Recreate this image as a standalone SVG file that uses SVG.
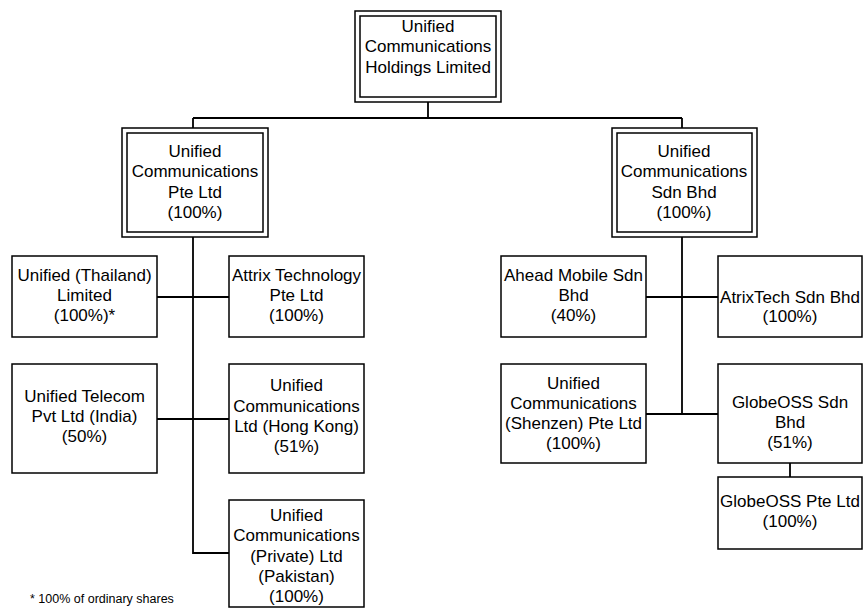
<svg xmlns="http://www.w3.org/2000/svg" width="863" height="608" viewBox="0 0 863 608">
<style>
.b{fill:#fff;stroke:#000;stroke-width:1.5}
.d{fill:none;stroke:#000;stroke-width:1.5}
.c{fill:none;stroke:#000;stroke-width:1.8}
text{font-family:"Liberation Sans",Arial,sans-serif;font-size:17px;fill:#000;text-anchor:middle}
.fn{font-size:12.5px;text-anchor:start}
</style>
<rect width="863" height="608" fill="#fff"/>
<g id="connectors">
<path class="c" d="M428 102V118M193 118H682M193 118V128M682 118V128"/>
<path class="c" d="M193 237V553H229M157 297H229M157 419H229"/>
<path class="c" d="M682 237V414M646 297H718M646 414H718M790 463V477"/>
</g>
<g id="n_holdings">
<rect class="b" x="355" y="11" width="146" height="91"/>
<rect class="d" x="360" y="16" width="136" height="81"/>
<text x="428" y="32">Unified</text>
<text x="428" y="52">Communications</text>
<text x="428" y="73">Holdings Limited</text>
</g>
<g id="n_pte">
<rect class="b" x="122" y="128" width="146" height="109"/>
<rect class="d" x="127" y="133" width="136" height="99"/>
<text x="195" y="157">Unified</text>
<text x="195" y="177">Communications</text>
<text x="195" y="198">Pte Ltd</text>
<text x="195" y="218">(100%)</text>
</g>
<g id="n_sdn">
<rect class="b" x="612" y="128" width="145" height="109"/>
<rect class="d" x="617" y="133" width="135" height="99"/>
<text x="684" y="157">Unified</text>
<text x="684" y="177">Communications</text>
<text x="684" y="198">Sdn Bhd</text>
<text x="684" y="218">(100%)</text>
</g>
<g id="n_thailand">
<rect class="b" x="12" y="256" width="145" height="81"/>
<text x="84.5" y="281">Unified (Thailand)</text>
<text x="84.5" y="301">Limited</text>
<text x="84.5" y="321">(100%)*</text>
</g>
<g id="n_attrix">
<rect class="b" x="229" y="256" width="135" height="81"/>
<text x="296.5" y="281">Attrix Technology</text>
<text x="296.5" y="301">Pte Ltd</text>
<text x="296.5" y="321">(100%)</text>
</g>
<g id="n_india">
<rect class="b" x="12" y="364" width="145" height="109"/>
<text x="84.5" y="402">Unified Telecom</text>
<text x="84.5" y="422">Pvt Ltd (India)</text>
<text x="84.5" y="442">(50%)</text>
</g>
<g id="n_hongkong">
<rect class="b" x="229" y="364" width="135" height="109"/>
<text x="296.5" y="391">Unified</text>
<text x="296.5" y="412">Communications</text>
<text x="296.5" y="432">Ltd (Hong Kong)</text>
<text x="296.5" y="452">(51%)</text>
</g>
<g id="n_pakistan">
<rect class="b" x="229" y="500" width="135" height="107"/>
<text x="296.5" y="521">Unified</text>
<text x="296.5" y="541">Communications</text>
<text x="296.5" y="562">(Private) Ltd</text>
<text x="296.5" y="582">(Pakistan)</text>
<text x="296.5" y="602">(100%)</text>
</g>
<g id="n_ahead">
<rect class="b" x="501" y="256" width="145" height="81"/>
<text x="573.5" y="281">Ahead Mobile Sdn</text>
<text x="573.5" y="301">Bhd</text>
<text x="573.5" y="321">(40%)</text>
</g>
<g id="n_atrixtech">
<rect class="b" x="718" y="256" width="144" height="81"/>
<text x="790" y="303">AtrixTech Sdn Bhd</text>
<text x="790" y="322">(100%)</text>
</g>
<g id="n_shenzen">
<rect class="b" x="501" y="364" width="145" height="99"/>
<text x="573.5" y="389">Unified</text>
<text x="573.5" y="409">Communications</text>
<text x="573.5" y="429">(Shenzen) Pte Ltd</text>
<text x="573.5" y="449">(100%)</text>
</g>
<g id="n_globeoss_sdn">
<rect class="b" x="718" y="364" width="144" height="99"/>
<text x="790" y="408">GlobeOSS Sdn</text>
<text x="790" y="428">Bhd</text>
<text x="790" y="448">(51%)</text>
</g>
<g id="n_globeoss_pte">
<rect class="b" x="718" y="477" width="144" height="72"/>
<text x="790" y="507">GlobeOSS Pte Ltd</text>
<text x="790" y="527">(100%)</text>
</g>
<text class="fn" x="30" y="603">* 100% of ordinary shares</text>
</svg>
